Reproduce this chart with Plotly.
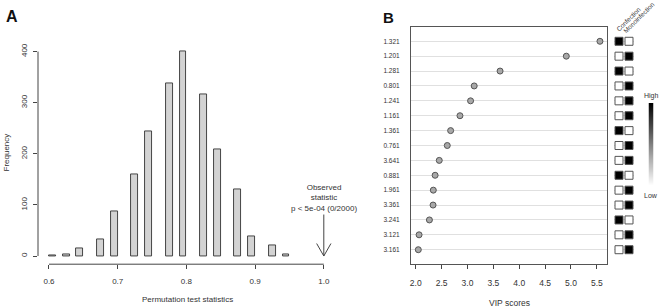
import plotly.graph_objects as go

# ---------------- Panel A data ----------------
bin_centers = [0.605, 0.625, 0.645, 0.675, 0.695, 0.725, 0.745, 0.775, 0.795,
               0.825, 0.845, 0.875, 0.895, 0.925, 0.945]
counts = [2, 4, 14, 33, 87, 160, 243, 338, 400, 316, 208, 130, 39, 20, 3]
bin_width = 0.01
xA_ticks = [0.6, 0.7, 0.8, 0.9, 1.0]
xA_ticktext = ["0.6", "0.7", "0.8", "0.9", "1.0"]
yA_ticks = [0, 100, 200, 300, 400]
observed_stat = 1.0
observed_text = "Observed<br>statistic<br>p < 5e-04 (0/2000)"

# ---------------- Panel B data ----------------
features = ["1.321", "1.201", "1.281", "0.801", "1.241", "1.161", "1.361", "0.761",
            "3.641", "0.881", "1.961", "3.361", "3.241", "3.121", "3.161"]
vip = [5.56, 4.91, 3.63, 3.13, 3.06, 2.855, 2.675, 2.61, 2.455, 2.375, 2.34,
       2.335, 2.265, 2.065, 2.05]
confection = [1, 0, 1, 0, 0, 0, 1, 0, 0, 1, 0, 0, 1, 0, 0]
monoinfection = [0, 1, 0, 1, 1, 1, 0, 1, 1, 0, 1, 1, 0, 1, 1]
groups = ["Confection", "Monoinfection"]
xB_ticks = [2.0, 2.5, 3.0, 3.5, 4.0, 4.5, 5.0, 5.5]
xB_ticktext = ["2.0", "2.5", "3.0", "3.5", "4.0", "4.5", "5.0", "5.5"]
key_levels = [0.0, 0.1, 0.2, 0.3, 0.4, 0.5, 0.6, 0.7, 0.8, 0.9, 1.0]

FONT = "Liberation Sans, Arial, sans-serif"
TXT = "#333333"
W, H = 660, 308
SCALE = [[0, "#ffffff"], [1, "#000000"]]

def px_x(p):
    return p / W

def px_y(p):
    return 1 - p / H

fig = go.Figure()

# Histogram bars
fig.add_trace(go.Bar(
    x=bin_centers, y=counts, width=bin_width,
    marker=dict(color="#d3d3d3", line=dict(color="#333333", width=0.9)),
    xaxis="x", yaxis="y", showlegend=False, hoverinfo="x+y"))

# VIP dots
fig.add_trace(go.Scatter(
    x=vip, y=features, mode="markers",
    marker=dict(size=6, color="#a8a8a8", line=dict(color="#555555", width=1)),
    xaxis="x2", yaxis="y2", showlegend=False))

# heatmap squares
hx, hy, hv = [], [], []
for f, c, m in zip(features, confection, monoinfection):
    hx += [groups[0], groups[1]]
    hy += [f, f]
    hv += [c, m]
fig.add_trace(go.Scatter(
    x=hx, y=hy, mode="markers",
    marker=dict(symbol="square", size=8, color=hv, colorscale=SCALE,
                cmin=0, cmax=1, line=dict(color="#555555", width=1),
                showscale=False),
    xaxis="x3", yaxis="y2", showlegend=False))

# colour key gradient
fig.add_trace(go.Heatmap(
    z=[[v] for v in key_levels], y=key_levels, x=[0],
    colorscale=SCALE, zmin=0, zmax=1, showscale=False, zsmooth="best",
    xaxis="x4", yaxis="y4", hoverinfo="skip"))

layout = dict(
    template="none",
    width=W, height=H,
    margin=dict(l=0, r=0, t=0, b=0),
    paper_bgcolor="white", plot_bgcolor="white",
    font=dict(family=FONT, color=TXT, size=8),
    bargap=0,
    xaxis=dict(domain=[px_x(38), px_x(334.8)], range=[0.584, 1.016],
               tickvals=xA_ticks, ticktext=xA_ticktext, ticks="outside", ticklen=4,
               tickcolor="#444444", showgrid=False, zeroline=False, showline=False,
               ticklabelstandoff=5, tickfont=dict(size=8, color=TXT),
               anchor="y"),
    yaxis=dict(domain=[px_y(264.2), px_y(43.4)], range=[-16, 416],
               tickvals=yA_ticks, ticks="outside", ticklen=4, tickcolor="#444444",
               tickangle=-90, showgrid=False, zeroline=False, showline=False,
               ticklabelstandoff=3, tickfont=dict(size=8, color=TXT), anchor="x"),
    xaxis2=dict(domain=[px_x(411), px_x(607.3)], range=[1.909, 5.702],
                tickvals=xB_ticks, ticktext=xB_ticktext, ticks="outside", ticklen=4,
                tickcolor="#444444", showgrid=False, zeroline=False,
                showline=True, mirror=True, linecolor="#555555", linewidth=1,
                ticklabelstandoff=6, tickfont=dict(size=8.5, color=TXT), anchor="y2"),
    yaxis2=dict(domain=[px_y(264.3), px_y(26.7)], type="category",
                categoryorder="array", categoryarray=features,
                range=[14.98, -0.98], ticks="", showgrid=True, gridcolor="#e0e0e0",
                gridwidth=1, zeroline=False, showline=True, mirror=True,
                linecolor="#555555", linewidth=1, ticklabelstandoff=9,
                tickfont=dict(size=6.5, color=TXT), anchor="x2"),
    xaxis3=dict(domain=[px_x(614), px_x(634)], type="category",
                categoryorder="array", categoryarray=groups, range=[-0.5, 1.5],
                visible=False, anchor="y2"),
    xaxis4=dict(domain=[px_x(648.5), px_x(653.5)], range=[-0.5, 0.5],
                visible=False, anchor="y4"),
    yaxis4=dict(domain=[px_y(185), px_y(103)], range=[0, 1],
                visible=False, anchor="x4"),
)
fig.update_layout(**layout)

# R-style detached axis lines for panel A
fig.add_shape(type="line", xref="x", yref="y domain", x0=xA_ticks[0], x1=xA_ticks[-1],
              y0=0, y1=0, line=dict(color="#444444", width=1))
fig.add_shape(type="line", xref="x domain", yref="y", x0=0, x1=0,
              y0=yA_ticks[0], y1=yA_ticks[-1], line=dict(color="#444444", width=1))

annots = []
# arrow shaft and head
for ax_, ay_ in [(0, -43), (-8, -14), (8, -14)]:
    annots.append(dict(x=observed_stat, y=0, xref="x", yref="y", text="", showarrow=True,
                       arrowhead=0, ax=ax_, ay=ay_, arrowwidth=1, arrowcolor="#444444"))


def label(xp, yp, text, size, angle=0, color=TXT):
    return dict(x=px_x(xp), y=px_y(yp), xref="paper", yref="paper", text=text,
                showarrow=False, xanchor="center", yanchor="middle", textangle=angle,
                font=dict(size=size, color=color))


annots.append(dict(x=observed_stat, y=px_y(198.5), xref="x", yref="paper",
                   text=observed_text, showarrow=False, xanchor="center", yanchor="middle",
                   font=dict(size=8, color=TXT), align="center"))
annots.append(label(187.5, 299, "Permutation test statistics", 8))
annots.append(label(5.5, 153, "Frequency", 8, -90))
annots.append(label(509, 302.5, "VIP scores", 8.5))
annots.append(label(12, 16.5, "<b>A</b>", 16, 0, "#111111"))
annots.append(label(388, 17.5, "<b>B</b>", 15, 0, "#111111"))
annots.append(label(628, 19.5, groups[0], 6.5, -45))
annots.append(label(639, 18, groups[1], 6.5, -45))
annots.append(label(651, 95.5, "High", 7))
annots.append(label(651, 195.5, "Low", 7))
fig.update_layout(annotations=annots)

fig.write_html("out.html", config={"displayModeBar": False},
               post_script="document.body.style.margin='0px';")
